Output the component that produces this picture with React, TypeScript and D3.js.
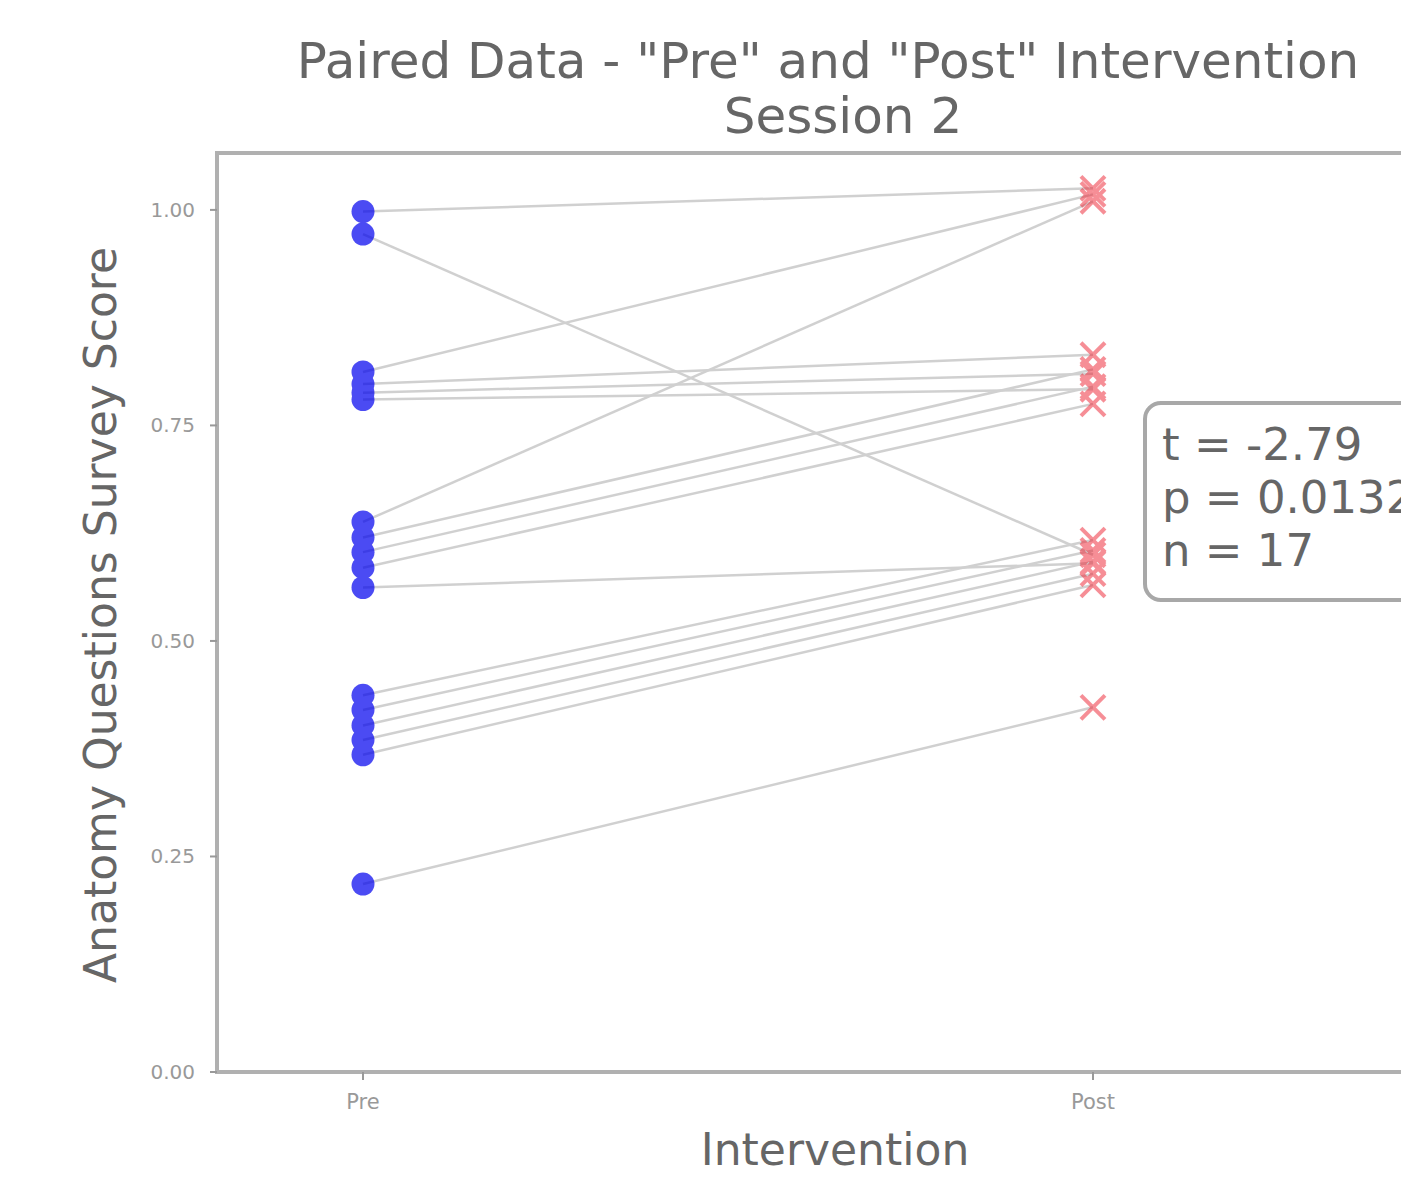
import * as d3 from "d3";

// paired scores (jitter included)
const preScores = [
  0.998, 0.972,
  0.812, 0.798, 0.788, 0.780,
  0.638, 0.620, 0.603, 0.585, 0.562,
  0.437, 0.420, 0.402, 0.385, 0.368,
  0.218,
];
const postScores = [
  1.025, 0.600,
  1.018, 0.832, 0.810, 0.792,
  1.010, 0.815, 0.795, 0.775, 0.590,
  0.617, 0.605, 0.592, 0.578, 0.565,
  0.423,
];
const groups = ["Pre", "Post"];
const yTicks = [0, 0.25, 0.5, 0.75, 1.0];
const statLines = ["t = -2.79", "p = 0.0132", "n = 17"];

const W = 1401;
const H = 1177;
const font = "DejaVu Sans, sans-serif";

export default function App() {
  const x = d3.scaleLinear().domain([-0.2, 1.474]).range([217, 1439]);
  const y = d3.scaleLinear().domain([0, 1.066]).range([1072, 153]);
  const fmt = d3.format(".2f");
  const left = x.range()[0];
  const right = x.range()[1];
  const top = y.range()[1];
  const bottom = y.range()[0];
  const xs = 12; // half size of the "x" marker

  return (
    <svg
      width={W}
      height={H}
      style={{ position: "absolute", left: 0, top: 0, background: "#fff" }}
    >
      <rect x={0} y={0} width={W} height={H} fill="#fff" />
      {/* connecting lines */}
      <g stroke="#b8b8b8" strokeWidth={2.5} opacity={0.65}>
        {preScores.map((p, i) => (
          <line key={i} x1={x(0)} y1={y(p)} x2={x(1)} y2={y(postScores[i])} />
        ))}
      </g>
      {/* pre markers */}
      <g fill="#0000ee" opacity={0.7}>
        {preScores.map((p, i) => (
          <circle key={i} cx={x(0)} cy={y(p)} r={11.5} />
        ))}
      </g>
      {/* post markers */}
      <g stroke="#ee2030" strokeWidth={4} opacity={0.5}>
        {postScores.map((p, i) => (
          <g key={i} transform={`translate(${x(1)},${y(p)})`}>
            <line x1={-xs} y1={-xs} x2={xs} y2={xs} />
            <line x1={-xs} y1={xs} x2={xs} y2={-xs} />
          </g>
        ))}
      </g>
      {/* spines */}
      <g stroke="#b0b0b0" strokeWidth={4} fill="none">
        <line x1={left} y1={top} x2={right} y2={top} />
        <line x1={left} y1={bottom} x2={right} y2={bottom} />
        <line x1={left} y1={top - 2} x2={left} y2={bottom + 2} />
      </g>
      {/* y ticks */}
      {yTicks.map((t) => (
        <g key={t} transform={`translate(${left},${y(t)})`}>
          <line x1={-7} x2={0} stroke="#999" strokeWidth={2} />
          <text x={-22} dy="0.35em" textAnchor="end" fontSize={20} fill="#999" fontFamily={font}>
            {fmt(t)}
          </text>
        </g>
      ))}
      {/* x ticks */}
      {groups.map((g, i) => (
        <g key={g} transform={`translate(${x(i)},${bottom})`}>
          <line y1={0} y2={8} stroke="#999" strokeWidth={2} />
          <text y={37} textAnchor="middle" fontSize={21} fill="#999" fontFamily={font}>
            {g}
          </text>
        </g>
      ))}
      {/* stats box */}
      <rect
        x={1145}
        y={403}
        width={320}
        height={197}
        rx={16}
        fill="#fff"
        stroke="#a8a8a8"
        strokeWidth={4}
      />
      {statLines.map((s, i) => (
        <text key={s} x={1162} y={460 + i * 53} fontSize={45} fill="#666" fontFamily={font}>
          {s}
        </text>
      ))}
      {/* labels */}
      <text x={828} y={78} textAnchor="middle" fontSize={50} fill="#666" fontFamily={font}>
        Paired Data - "Pre" and "Post" Intervention
      </text>
      <text x={843} y={133} textAnchor="middle" fontSize={50} fill="#666" fontFamily={font}>
        Session 2
      </text>
      <text x={835} y={1165} textAnchor="middle" fontSize={44} fill="#666" fontFamily={font}>
        Intervention
      </text>
      <text
        transform={`translate(116,615) rotate(-90)`}
        textAnchor="middle"
        fontSize={44}
        fill="#666"
        fontFamily={font}
      >
        Anatomy Questions Survey Score
      </text>
    </svg>
  );
}
